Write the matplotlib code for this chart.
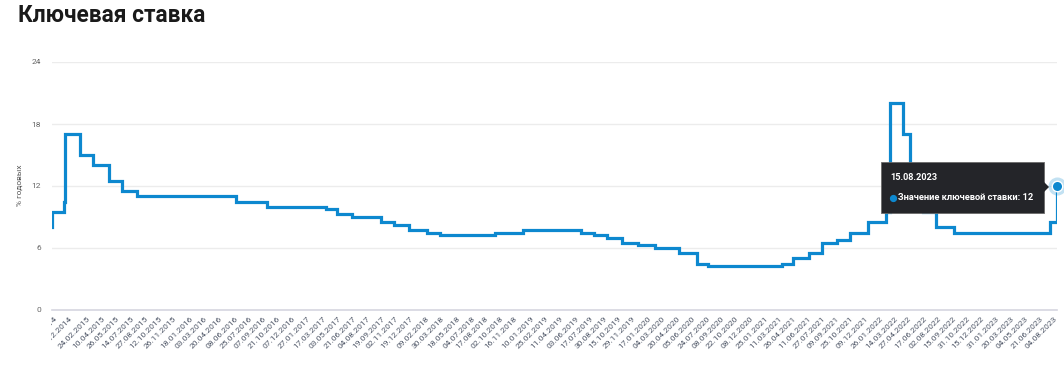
import matplotlib
matplotlib.use("Agg")
import matplotlib.pyplot as plt
from matplotlib.patches import FancyBboxPatch, Polygon
from matplotlib.transforms import Bbox
import pandas as pd

# ---- data: key rate change dates and values ----
change_dates = [
    "2014-11-04", "2014-11-05", "2014-12-12", "2014-12-16", "2015-02-02", "2015-03-16",
    "2015-05-05", "2015-06-16", "2015-08-03", "2016-06-14", "2016-09-19", "2017-03-27",
    "2017-05-02", "2017-06-19", "2017-09-18", "2017-10-30", "2017-12-18", "2018-02-12",
    "2018-03-26", "2018-09-17", "2018-12-17", "2019-06-17", "2019-07-29", "2019-09-09",
    "2019-10-28", "2019-12-16", "2020-02-10", "2020-04-27", "2020-06-22", "2020-07-27",
    "2021-03-22", "2021-04-26", "2021-06-15", "2021-07-26", "2021-09-13", "2021-10-25",
    "2021-12-20", "2022-02-14", "2022-02-28", "2022-04-11", "2022-05-04", "2022-05-27",
    "2022-06-14", "2022-07-25", "2022-09-19", "2023-07-24", "2023-08-15",
]
rates = [
    8.0, 9.5, 10.5, 17.0, 15.0, 14.0,
    12.5, 11.5, 11.0, 10.5, 10.0, 9.75,
    9.25, 9.0, 8.5, 8.25, 7.75, 7.5,
    7.25, 7.5, 7.75, 7.5, 7.25, 7.0,
    6.5, 6.25, 6.0, 5.5, 4.5, 4.25,
    4.5, 5.0, 5.5, 6.5, 6.75, 7.5,
    8.5, 9.5, 20.0, 17.0, 14.0, 11.0,
    9.5, 8.0, 7.5, 8.5, 12.0,
]
tick_labels = [
    "11.11.2014", "29.12.2014", "24.02.2015", "10.04.2015", "26.05.2015", "14.07.2015",
    "27.08.2015", "12.10.2015", "26.11.2015", "18.01.2016", "03.03.2016", "20.04.2016",
    "08.06.2016", "25.07.2016", "07.09.2016", "21.10.2016", "07.12.2016", "27.01.2017",
    "17.03.2017", "03.05.2017", "21.06.2017", "04.08.2017", "19.09.2017", "02.11.2017",
    "19.12.2017", "09.02.2018", "30.03.2018", "18.05.2018", "04.07.2018", "17.08.2018",
    "02.10.2018", "16.11.2018", "10.01.2019", "25.02.2019", "11.04.2019", "03.06.2019",
    "17.07.2019", "30.08.2019", "15.10.2019", "29.11.2019", "17.01.2020", "04.03.2020",
    "20.04.2020", "05.06.2020", "24.07.2020", "08.09.2020", "22.10.2020", "08.12.2020",
    "25.01.2021", "11.03.2021", "26.04.2021", "11.06.2021", "27.07.2021", "09.09.2021",
    "25.10.2021", "09.12.2021", "26.01.2022", "14.03.2022", "27.04.2022", "17.06.2022",
    "02.08.2022", "15.09.2022", "31.10.2022", "15.12.2022", "31.01.2023", "20.03.2023",
    "04.05.2023", "21.06.2023", "04.08.2023",
]
y_ticks = [0, 6, 12, 18, 24]
tooltip_date = "15.08.2023"
tooltip_value = 12

plt.rcParams['font.family'] = ['Roboto', 'DejaVu Sans']

W, H = 1064, 370
fig = plt.figure(figsize=(W / 100, H / 100), dpi=100)
fig.patch.set_facecolor("white")

def fx(px):
    return px / W

def fy(py):
    return 1 - py / H

ax = fig.add_axes([fx(52), fy(310), fx(1057) - fx(52), fy(62) - fy(310)])

x = pd.to_datetime(change_dates)
line_color = "#0d88cf"
ax.step(x, rates, where="post", color=line_color, lw=2.3, solid_joinstyle="miter", zorder=3)

ax.set_xlim(x[0], x[-1])
ax.set_ylim(0, 24)
ax.set_yticks(y_ticks)
ax.set_yticklabels([str(v) for v in y_ticks])

tick_pos = pd.to_datetime(tick_labels, format="%d.%m.%Y")
ax.set_xticks(tick_pos)
ax.set_xticklabels(tick_labels)

for s in ["top", "right", "left"]:
    ax.spines[s].set_visible(False)
ax.spines["bottom"].set_color("#d6d6e0")
ax.spines["bottom"].set_linewidth(1.2)
ax.grid(axis="y", color="#ececec", lw=1)
ax.set_axisbelow(True)

ax.tick_params(axis="y", length=0, pad=8, labelsize=6, labelcolor="#666666")
ax.tick_params(axis="x", length=0, pad=4, labelsize=6, labelcolor="#4d5566")
clip = Bbox.from_extents(51, 0, W, H)
for lbl in ax.get_xticklabels():
    lbl.set_rotation(45)
    lbl.set_ha("right")
    lbl.set_va("top")
    lbl.set_rotation_mode("anchor")
    lbl.set_clip_box(clip)
    lbl.set_clip_on(True)

fig.text(fx(20), fy(185), "% годовых", rotation=90, ha="center", va="center",
         fontsize=6, color="#555555")

fig.text(fx(18), fy(16), "Ключевая ставка", ha="left", va="center",
         fontsize=16.3, fontweight="bold", color="#1a1a1a")

# end-point marker
ax.plot([x[-1]], [rates[-1]], "o", ms=13, color=line_color, alpha=0.25,
        clip_on=False, zorder=5, markeredgewidth=0)
ax.plot([x[-1]], [rates[-1]], "o", ms=7.5, color=line_color, mec="white", mew=1,
        clip_on=False, zorder=6)

# tooltip
tip_color = "#242529"
box = FancyBboxPatch((fx(881), fy(213)), fx(1044) - fx(881), fy(162) - fy(213),
                     boxstyle="square,pad=0", transform=fig.transFigure,
                     facecolor=tip_color, edgecolor="#6a6a6a", lw=0.6, zorder=10)
fig.add_artist(box)
arrow = Polygon([(fx(1044), fy(182)), (fx(1049), fy(187)), (fx(1044), fy(192))],
                closed=True, transform=fig.transFigure, facecolor=tip_color,
                edgecolor="none", zorder=11)
fig.add_artist(arrow)
fig.text(fx(890), fy(177), tooltip_date, ha="left", va="center", fontsize=6.6,
         fontweight="bold", color="white", zorder=12)
fig.add_artist(plt.Line2D([fx(892.5)], [fy(198)], marker="o", ms=4.2, color=line_color,
                          transform=fig.transFigure, zorder=12))
fig.text(fx(898.5), fy(198), f"Значение ключевой ставки: {tooltip_value}", ha="left",
         va="center", fontsize=6.7, fontweight="semibold", color="white", zorder=12)

fig.savefig("out.png", dpi=100, facecolor="white")
